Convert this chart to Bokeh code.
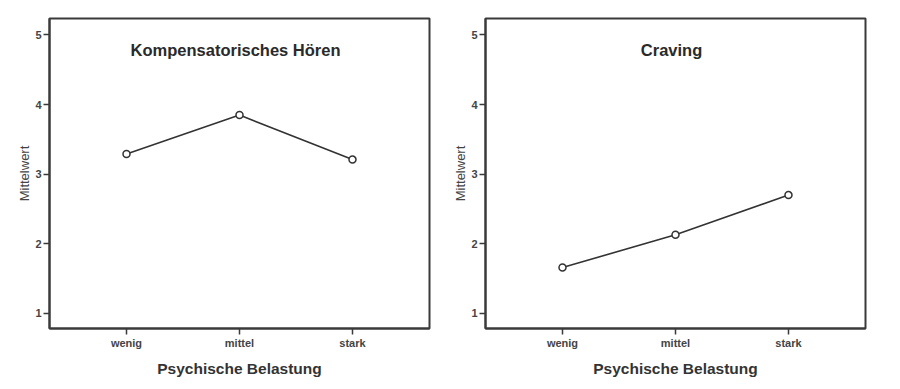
from bokeh.plotting import figure
from bokeh.layouts import row
from bokeh.models import FactorRange, Range1d, FixedTicker, Label
from bokeh.embed import file_html
from bokeh.resources import INLINE

categories = ["wenig", "mittel", "stark"]
kompensatorisch = [3.29, 3.85, 3.21]
craving = [1.66, 2.13, 2.70]
y_ticks = [1, 2, 3, 4, 5]
titles = ["Kompensatorisches Hören", "Craving"]
x_label = "Psychische Belastung"
y_label = "Mittelwert"

FONT = "Liberation Sans"
DARK = "#333333"


def make(title, values, width, border_left):
    p = figure(width=width, height=383,
               x_range=FactorRange(*categories, range_padding=0.121),
               y_range=Range1d(0.784, 5.237),
               output_backend="svg", toolbar_location=None,
               min_border_left=border_left, min_border_right=15,
               min_border_top=18, min_border_bottom=55,
               background_fill_color="white", border_fill_color="white")
    p.grid.visible = False
    p.outline_line_color = "#3a3a3a"
    p.outline_line_width = 2
    p.line(categories, values, line_color=DARK, line_width=1.6)
    p.scatter(categories, values, marker="circle", size=7, fill_color="white",
              line_color=DARK, line_width=1.5)

    for ax in (p.xaxis[0], p.yaxis[0]):
        ax.axis_line_color = "#3a3a3a"
        ax.axis_line_width = 2
        ax.major_tick_line_color = "#3a3a3a"
        ax.major_tick_line_width = 1.5
        ax.major_tick_in = 0
        ax.major_tick_out = 6
        ax.minor_tick_line_color = None
        ax.major_label_text_font = FONT
        ax.major_label_text_font_size = "11px"
        ax.major_label_text_font_style = "bold"
        ax.major_label_text_color = "#444444"
        ax.major_label_standoff = 2
        ax.axis_label_text_font = FONT

    p.yaxis.ticker = FixedTicker(ticks=y_ticks)
    p.yaxis.axis_label = y_label
    p.yaxis.axis_label_text_font_size = "13px"
    p.yaxis.axis_label_text_font_style = "normal"
    p.yaxis.axis_label_text_color = "#444444"
    p.yaxis.axis_label_standoff = 0

    p.xaxis.axis_label = x_label
    p.xaxis.axis_label_text_font_size = "15.5px"
    p.xaxis.axis_label_text_font_style = "bold"
    p.xaxis.axis_label_text_color = "#333333"
    p.xaxis.axis_label_standoff = 8

    p.add_layout(Label(x=1.465, y=4.78, text=title, text_align="center",
                       text_baseline="middle", text_font=FONT,
                       text_font_size="16.5px", text_font_style="bold",
                       text_color="#2a2a2a"))
    return p


p1 = make(titles[0], kompensatorisch, 444, 49)
p2 = make(titles[1], craving, 436, 41)
layout = row(p1, p2)

open("out.html", "w").write(file_html(layout, INLINE))
